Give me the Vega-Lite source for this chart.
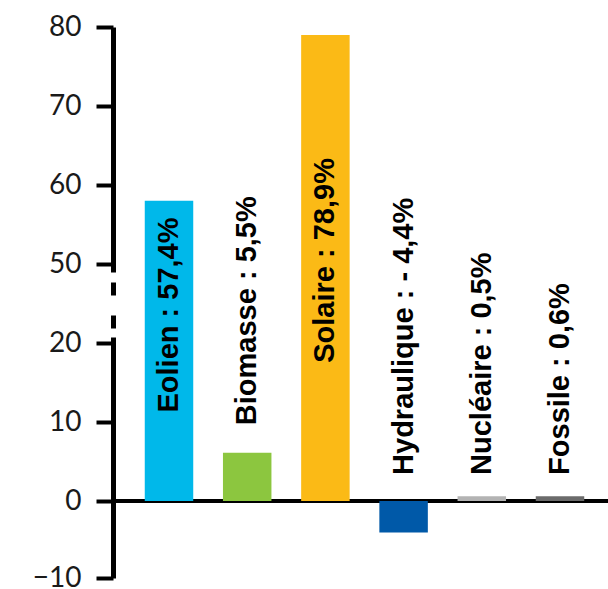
{
  "$schema": "https://vega.github.io/schema/vega-lite/v6.json",
  "width": 495,
  "height": 551,
  "autosize": {"type": "none"},
  "padding": {"left": 113, "top": 27, "right": 0, "bottom": 11},
  "background": "white",
  "config": {"view": {"stroke": null}},
  "data": {
    "values": [
      {"source": "Eolien", "value": 58, "label": "Eolien : 57,4%", "labelAt": 11.2},
      {"source": "Biomasse", "value": 6.1, "label": "Biomasse : 5,5%", "labelAt": 9.6},
      {"source": "Solaire", "value": 79, "label": "Solaire : 78,9%", "labelAt": 17.5},
      {"source": "Hydraulique", "value": -4.1, "label": "Hydraulique : - 4,4%", "labelAt": 3.3},
      {"source": "Nucléaire", "value": 0.6, "label": "Nucléaire : 0,5%", "labelAt": 3.3},
      {"source": "Fossile", "value": 0.6, "label": "Fossile : 0,6%", "labelAt": 3.3}
    ]
  },
  "layer": [
    {
      "mark": {"type": "rule", "color": "black", "strokeWidth": 3.5},
      "encoding": {"y": {"datum": 0, "type": "quantitative"}}
    },
    {
      "mark": {"type": "bar"},
      "encoding": {
        "x": {
          "field": "source", "type": "nominal", "sort": null, "axis": null,
          "scale": {"paddingInner": 0.38, "paddingOuter": 0.355, "align": 0.572}
        },
        "y": {
          "field": "value", "type": "quantitative",
          "scale": {"domain": [-10, 0, 20, 50, 80], "range": [551, 474, 316, 237, 0], "nice": false, "zero": false},
          "axis": {
            "values": [-10, 0, 10, 20, 50, 60, 70, 80],
            "title": null, "grid": false,
            "domainColor": "black", "domainWidth": 5,
            "domainDash": [241, 9, 13, 20, 13, 10, 400, 0],
            "tickColor": "black", "tickWidth": 4, "tickSize": 17,
            "labelFont": "Lato", "labelFontSize": 28, "labelColor": "#1a1a1a",
            "labelPadding": 15, "labelFlush": false, "labelOverlap": false
          }
        },
        "color": {
          "field": "source", "type": "nominal", "legend": null,
          "scale": {
            "domain": ["Eolien", "Biomasse", "Solaire", "Hydraulique", "Nucléaire", "Fossile"],
            "range": ["#00B8EA", "#8CC63F", "#FBBA16", "#0059A8", "#B3B3B3", "#6B6B6B"]
          }
        }
      }
    },
    {
      "mark": {"type": "text", "angle": 270, "align": "left", "baseline": "middle", "font": "Liberation Sans", "fontWeight": "bold", "fontSize": 29, "color": "black"},
      "encoding": {
        "x": {"field": "source", "type": "nominal", "sort": null},
        "y": {"field": "labelAt", "type": "quantitative"},
        "text": {"field": "label"}
      }
    }
  ]
}
